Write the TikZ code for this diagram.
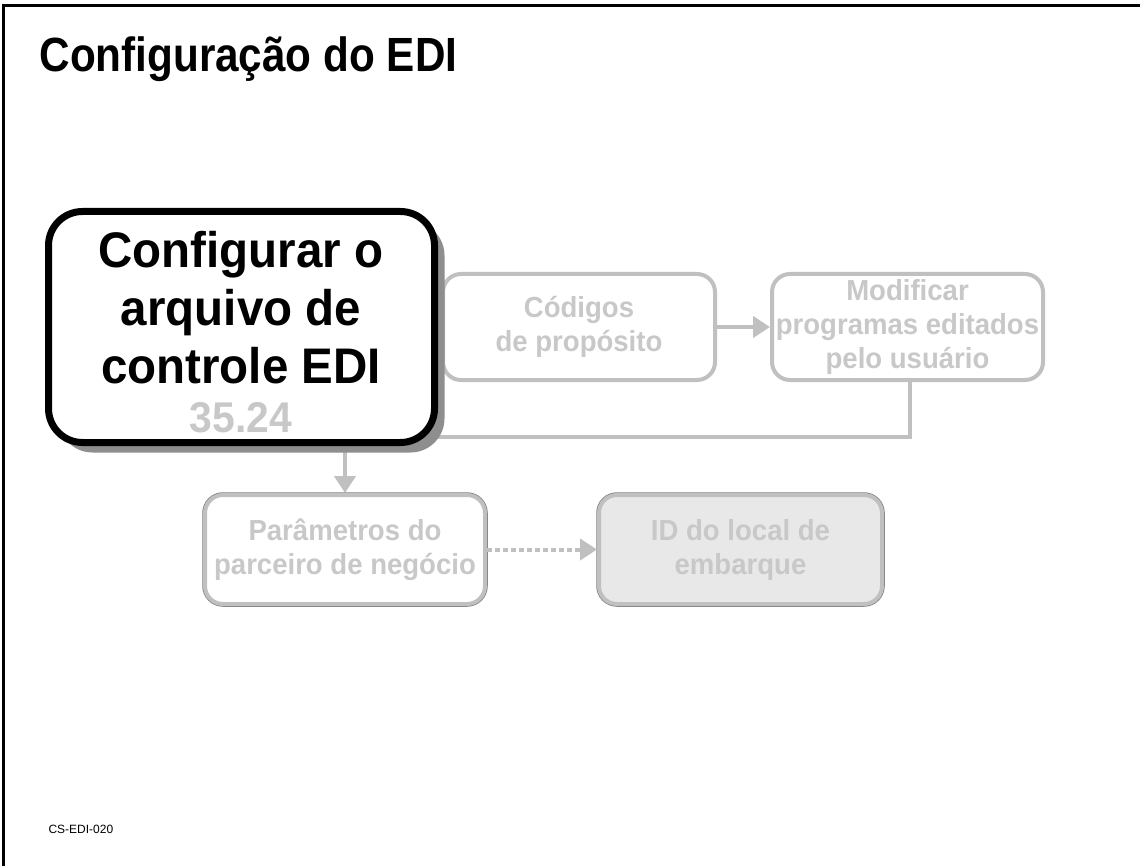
\documentclass[tikz,border=0pt]{standalone}
\usepackage{fontspec}
\setmainfont{Liberation Sans}
\newfontfamily\titlefont[FakeStretch=0.88]{Liberation Sans}
\newfontfamily\boxfont[FakeStretch=0.95]{Liberation Sans}
\usetikzlibrary{positioning, arrows.meta, shadows, backgrounds}

\definecolor{boxgray}{HTML}{C0C0C0}
\definecolor{textgray}{HTML}{C8C8C8}
\definecolor{shadowgray}{HTML}{8E8E8E}
\definecolor{idfill}{HTML}{E8E8E8}
\definecolor{rimgray}{HTML}{808080}

\tikzset{
  mainbox/.style={draw=black, line width=7pt, fill=white, rounded corners=34pt,
    minimum width=386pt, minimum height=231pt, inner sep=0pt,
    drop shadow={shadow xshift=10pt, shadow yshift=-10pt, fill=shadowgray, opacity=1}},
  maintext/.style={align=center, font=\boxfont\fontsize{50}{58}\selectfont\bfseries},
  codetext/.style={text=textgray, font=\boxfont\fontsize{43}{50}\selectfont\bfseries},
  stepbox/.style={draw=boxgray, line width=4pt, fill=white, rounded corners=18pt,
    minimum height=106pt, inner sep=0pt, align=center, text=textgray,
    font=\boxfont\fontsize{29}{34}\selectfont\bfseries},
  rimbox/.style={stepbox, minimum height=109pt,
    preaction={draw=rimgray, line width=5.5pt, rounded corners=18pt}},
  link/.style={draw=boxgray, line width=4pt},
  linkarrow/.style={link, -{Triangle[length=17pt, width=21pt]}},
  dotlink/.style={linkarrow, dash pattern=on 5pt off 3pt}
}

\begin{document}
\begin{tikzpicture}[x=1pt, y=-1pt]
  \useasboundingbox (0,0) rectangle (1140,866);
  % frame
  \draw[line width=3pt] (3,866) -- (3,6) -- (1140,6);
  \node[anchor=base west, font=\titlefont\fontsize{48}{56}\selectfont\bfseries] (title) at (36,72) {Configuração do EDI};

  % steps
  \node[stepbox, minimum width=272pt] (cod) at (579,327) {Códigos\\de propósito};
  \node[stepbox, minimum width=271pt] (mod) at (907.5,327) {Modificar\\programas editados\\pelo usuário};
  \node[rimbox, minimum width=280pt] (par) at (345,549.5) {Parâmetros do\\parceiro de negócio};
  \node[rimbox, fill=idfill, minimum width=283pt] (idloc) at (740.5,549.5) {ID do local de\\embarque};

  % main step
  \node[mainbox] (cfg) at (241.5,327) {};
  \node[maintext] (cfgtext) at (241,308) {Configurar o\\arquivo de\\controle EDI};
  \node[codetext, anchor=base] (cfgcode) at (241,432) {35.24};

  % connectors
  \draw[linkarrow] (cod) -- (mod);
  \draw[dotlink] (par) -- (idloc);
  \begin{scope}[on background layer]
    \draw[link] ([xshift=2.5pt]mod.south) |- ([xshift=-20pt, yshift=9pt]cfg.south east);
    \draw[linkarrow] (par.north |- cfg.south) -- (par.north);
  \end{scope}

  \node[anchor=base west, font=\fontsize{12}{14}\selectfont] (ref) at (45,833) {CS-EDI-020};
\end{tikzpicture}
\end{document}
